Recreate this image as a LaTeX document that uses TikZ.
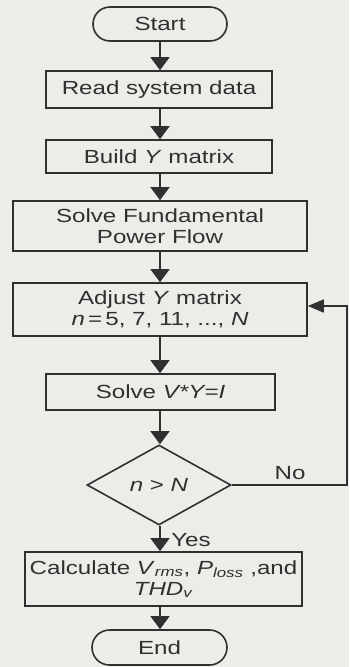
\documentclass[tikz,border=0pt]{standalone}
\usepackage{fontspec}
\setmainfont[FakeStretch=1.27]{Liberation Sans}
\usetikzlibrary{arrows.meta,shapes.geometric,shapes.misc}
\definecolor{bgc}{RGB}{236,236,233}
\definecolor{ink}{RGB}{48,48,48}
\begin{document}
\begin{tikzpicture}[x=1pt,y=-1pt,
  every node/.style={font=\fontsize{19}{21}\selectfont, text=ink},
  box/.style={draw=ink, line width=1.6pt, rectangle, inner sep=0pt, align=center, fill=bgc},
  pill/.style={draw=ink, line width=1.6pt, rounded rectangle, inner sep=0pt, fill=bgc},
  dia/.style={draw=ink, line width=1.6pt, diamond, inner sep=0pt, fill=bgc},
  arr/.style={draw=ink, line width=1.6pt, -{Triangle[length=13pt,width=19pt]}},
  harr/.style={draw=ink, line width=1.6pt, -{Triangle[length=16pt,width=13pt]}},
  lbl/.style={inner sep=0pt}]
\fill[bgc] (0,0) rectangle (349,667);
\useasboundingbox (0,0) rectangle (349,667);
\node[pill, minimum width=134pt, minimum height=34pt] (start) at (160,24) {Start};
\node[box, minimum width=226pt, minimum height=37pt] (read) at (159,89.5) {Read system data};
\node[box, minimum width=226pt, minimum height=33pt] (build) at (159,156.5) {Build \textit{Y} matrix};
\node[box, minimum width=294pt, minimum height=50pt] (solvef) at (160,226) {Solve Fundamental\\Power Flow};
\node[box, minimum width=294pt, minimum height=53pt] (adjust) at (160,309.5) {Adjust \textit{Y} matrix\\\textit{n}\,=\,5, 7, 11, ..., \textit{N}};
\node[box, minimum width=229pt, minimum height=36pt] (solvev) at (160.5,392) {Solve \textit{V*Y=I}};
\node[dia, minimum width=144pt, minimum height=80pt] (dec) at (159,485) {\textit{n} > \textit{N}};
\node[box, minimum width=277pt, minimum height=54pt] (calc) at (163.5,579) {Calculate \textit{V}\textsubscript{\textit{rms}}, \textit{P}\textsubscript{\textit{loss}} ,and\\\textit{THD}\textsubscript{\textit{v}}};
\node[pill, minimum width=135pt, minimum height=35pt] (end) at (159.5,647.5) {End};
\coordinate (la) at (347,485);
\coordinate (lb) at (347,306);
\draw[arr] (start.south) -- (start.south |- read.north);
\draw[arr] (read.south -| start.south) -- (start.south |- build.north);
\draw[arr] (build.south -| start.south) -- (start.south |- solvef.north);
\draw[arr] (solvef.south -| start.south) -- (start.south |- adjust.north);
\draw[arr] (adjust.south -| start.south) -- (start.south |- solvev.north);
\draw[arr] (solvev.south -| start.south) -- (start.south |- dec.north);
\draw[arr] (dec.south -| start.south) -- (start.south |- calc.north);
\draw[arr] (calc.south -| start.south) -- (start.south |- end.north);
\draw[harr] (dec.east) -- (la) -- (lb) -- (lb -| adjust.east);
\node[lbl] (no) at (290,473) {No};
\node[lbl] (yes) at (191,540) {Yes};
\end{tikzpicture}
\end{document}
